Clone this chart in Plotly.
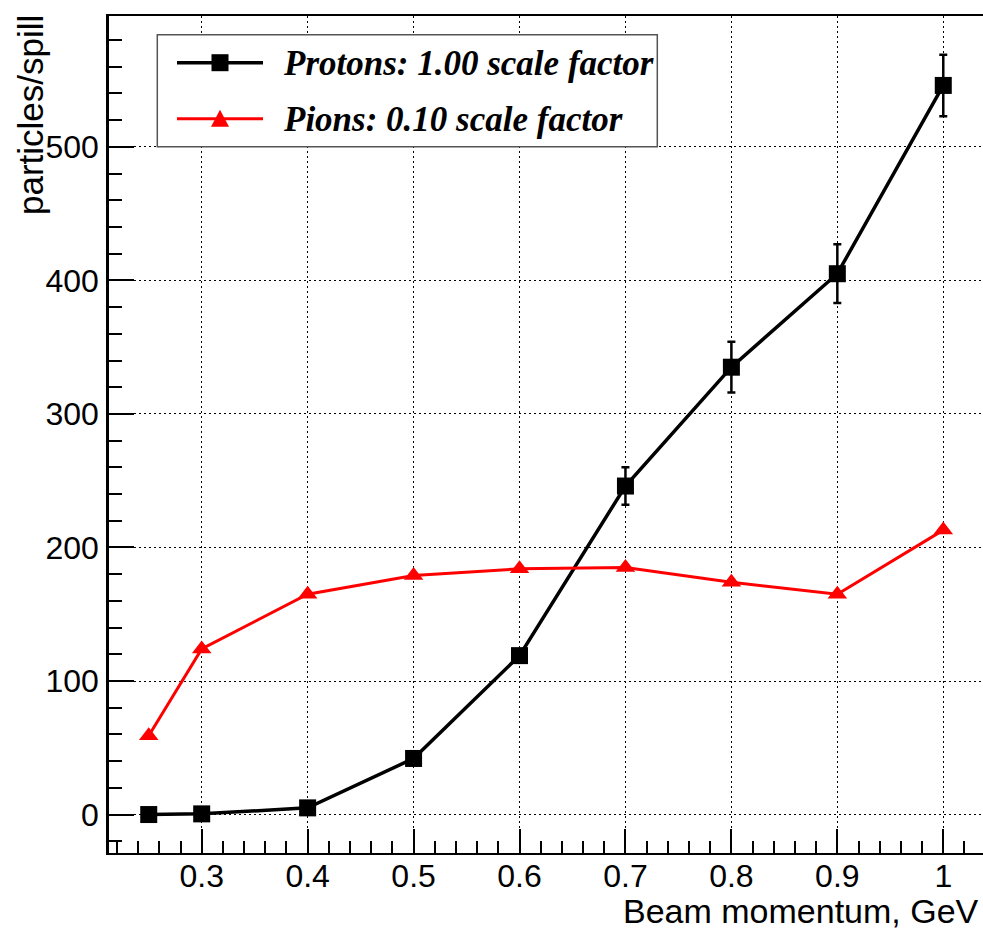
import plotly.graph_objects as go

# Beam momentum points (GeV)
momentum = [0.25, 0.3, 0.4, 0.5, 0.6, 0.7, 0.8, 0.9, 1.0]

# Protons per spill (scale factor 1.00) and their uncertainties
protons = [0, 0.5, 5, 42, 119, 246, 335, 405, 546]
proton_err = [0, 0, 0, 0, 0, 14, 19, 22, 23]

# Pions per spill (scale factor 0.10)
pions = [59, 124, 165, 179, 184, 185, 174, 165, 213]

legend_labels = ["Protons: 1.00 scale factor", "Pions: 0.10 scale factor"]
x_title = "Beam momentum, GeV"
y_title = "particles/spill"

W, H = 983, 931
ML, MR, MT, MB = 109, 0, 16, 78
PW, PH = W - ML - MR, H - MT - MB

SANS = "Liberation Sans, Arial, Helvetica, sans-serif"
SERIF = "Liberation Serif, Times New Roman, serif"
RED = "#ff0000"


def fx(px):
    """Page pixel x -> paper fraction of the plot area."""
    return (px - ML) / PW


def fy(py):
    """Page pixel y -> paper fraction of the plot area."""
    return 1 - (py - MT) / PH


fig = go.Figure()

fig.add_trace(go.Scatter(
    x=momentum, y=protons, mode="lines+markers",
    line=dict(color="black", width=3.5),
    marker=dict(symbol="square", size=17, color="black"),
    error_y=dict(type="data", array=proton_err, visible=True,
                 color="black", thickness=2.5, width=4),
    showlegend=False, cliponaxis=False,
))

fig.add_trace(go.Scatter(
    x=momentum, y=pions, mode="lines+markers",
    line=dict(color=RED, width=3),
    marker=dict(symbol="triangle-up", size=17, color=RED),
    showlegend=False, cliponaxis=False,
))

# ---- boxed legend drawn with shapes (white box hides the grid) ----
shapes = [dict(type="rect", xref="paper", yref="paper",
               x0=fx(157.3), x1=fx(657.3), y0=fy(146.7), y1=fy(34.7),
               line=dict(color="#555555", width=1.5),
               fillcolor="white", layer="above")]

row_y = [62.7, 118.7]
row_col = ["black", RED]
row_lw = [3.5, 3]
for yr, col, lw in zip(row_y, row_col, row_lw):
    shapes.append(dict(type="line", xref="paper", yref="paper",
                       x0=fx(177), x1=fx(263), y0=fy(yr), y1=fy(yr),
                       line=dict(color=col, width=lw), layer="above"))

# square glyph for protons
shapes.append(dict(type="rect", xref="paper", yref="paper",
                   x0=fx(211.5), x1=fx(228.5),
                   y0=fy(row_y[0] + 8.5), y1=fy(row_y[0] - 8.5),
                   line=dict(width=0), fillcolor="black", layer="above"))
# triangle glyph for pions
tri = [(211, row_y[1] + 8), (229, row_y[1] + 8), (220, row_y[1] - 9)]
path = "M %f,%f L %f,%f L %f,%f Z" % tuple(
    v for p in tri for v in (fx(p[0]), fy(p[1])))
shapes.append(dict(type="path", xref="paper", yref="paper", path=path,
                   line=dict(width=0), fillcolor=RED, layer="above"))

annotations = []
for yr, label in zip(row_y, legend_labels):
    annotations.append(dict(
        xref="paper", yref="paper", x=fx(281), y=fy(yr + 1),
        text="<b><i>%s</i></b>" % label, showarrow=False,
        xanchor="left", yanchor="middle",
        font=dict(family=SERIF, size=35, color="black"),
    ))

# axis titles, ROOT style (right / top aligned)
annotations.append(dict(
    xref="paper", yref="paper", x=fx(980), y=fy(931), text=x_title,
    showarrow=False, xanchor="right", yanchor="bottom", borderpad=0,
    font=dict(family=SANS, size=34, color="black"),
))
annotations.append(dict(
    xref="paper", yref="paper", x=fx(30), y=fy(13), text=y_title,
    showarrow=False, textangle=-90, xanchor="center", yanchor="top",
    font=dict(family=SANS, size=35, color="black"),
))

grid_dash = "2px,3px"

fig.update_layout(
    width=W, height=H,
    margin=dict(l=ML, r=MR, t=MT, b=MB, pad=0),
    paper_bgcolor="white", plot_bgcolor="white",
    font=dict(family=SANS, size=32, color="black"),
    shapes=shapes,
    annotations=annotations,
    xaxis=dict(
        range=[0.2125, 1.0375], tickmode="array",
        tickvals=[0.3, 0.4, 0.5, 0.6, 0.7, 0.8, 0.9, 1.0],
        ticktext=["0.3", "0.4", "0.5", "0.6", "0.7", "0.8", "0.9", "1"],
        ticks="inside", ticklen=24, tickwidth=1.5, tickcolor="black",
        showline=True, linecolor="black", linewidth=2, mirror=True,
        showgrid=True, gridcolor="black", gridwidth=1, griddash=grid_dash,
        zeroline=False, fixedrange=True, ticklabelstandoff=-6,
        tickfont=dict(family=SANS, size=32, color="black"),
        minor=dict(tickmode="linear", tick0=0.2, dtick=0.02,
                   ticks="inside", ticklen=12, tickwidth=1.5,
                   tickcolor="black", showgrid=False),
    ),
    yaxis=dict(
        range=[-28.8, 598], tickmode="linear", tick0=0, dtick=100,
        ticks="inside", ticklen=25, tickwidth=2, tickcolor="black",
        showline=True, linecolor="black", linewidth=2.5, mirror=False,
        showgrid=True, gridcolor="black", gridwidth=1, griddash=grid_dash,
        zeroline=False, fixedrange=True, ticklabelstandoff=1,
        tickfont=dict(family=SANS, size=32, color="black"),
        minor=dict(tickmode="linear", tick0=0, dtick=20,
                   ticks="inside", ticklen=13, tickwidth=2,
                   tickcolor="black", showgrid=False),
    ),
)

fig.write_html("out.html")
